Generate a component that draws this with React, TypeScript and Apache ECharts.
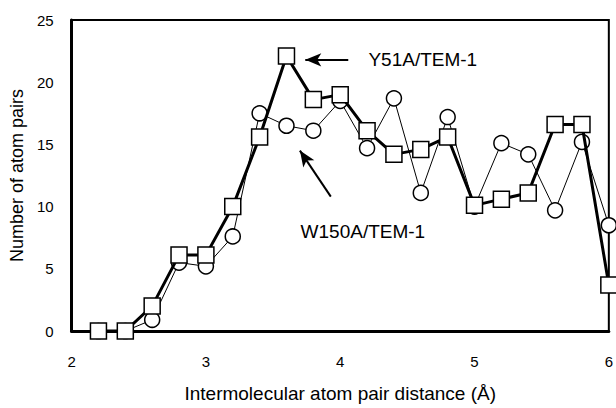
import React, { useEffect, useRef } from "react";
import * as echarts from "echarts";

const distances = [2.2, 2.4, 2.6, 2.8, 3.0, 3.2, 3.4, 3.6, 3.8, 4.0, 4.2, 4.4, 4.6, 4.8, 5.0, 5.2, 5.4, 5.6, 5.8, 6.0];
const y51a = [0, 0, 2.0, 6.1, 6.1, 10.0, 15.6, 22.1, 18.6, 19.0, 16.1, 14.2, 14.6, 15.6, 10.1, 10.6, 11.1, 16.6, 16.6, 3.7];
const w150a = [0, 0, 0.9, 5.5, 5.2, 7.6, 17.5, 16.5, 16.1, 18.5, 14.7, 18.7, 11.1, 17.2, 10.0, 15.1, 14.2, 9.7, 15.2, 8.5];

const labelY51A = "Y51A/TEM-1";
const labelW150A = "W150A/TEM-1";
const xTitle = "Intermolecular atom pair distance (Å)";
const yTitle = "Number of atom pairs";

const FONT = "Liberation Sans, Arial, sans-serif";

export default function App() {
  const ref = useRef<HTMLDivElement>(null);
  useEffect(() => {
    if (!ref.current) return;
    const chart = echarts.init(ref.current, undefined, { renderer: "svg" });
    const pairs = (ys: number[]) => distances.map((x, i) => [x, ys[i]]);
    chart.setOption({
      animation: false,
      backgroundColor: "#ffffff",
      textStyle: { fontFamily: FONT },
      grid: {
        left: 71,
        right: 3,
        top: 20,
        bottom: 74,
        show: true,
        borderColor: "#000",
        borderWidth: 2,
        backgroundColor: "transparent",
      },
      xAxis: {
        type: "value",
        min: 2,
        max: 6,
        interval: 1,
        name: xTitle,
        nameLocation: "middle",
        nameGap: 53,
        nameTextStyle: { fontSize: 19, color: "#000", fontFamily: FONT },
        axisLine: { show: true, onZero: false, lineStyle: { color: "#000", width: 3 } },
        axisTick: { show: false },
        splitLine: { show: false },
        axisLabel: { color: "#000", fontSize: 15, margin: 23, fontFamily: FONT },
      },
      yAxis: {
        type: "value",
        min: 0,
        max: 25,
        interval: 5,
        name: yTitle,
        nameLocation: "middle",
        nameGap: 37,
        nameTextStyle: { fontSize: 18, color: "#000", fontFamily: FONT },
        axisLine: { show: true, lineStyle: { color: "#000", width: 3 } },
        axisTick: { show: false },
        splitLine: { show: false },
        axisLabel: { color: "#000", fontSize: 15, margin: 18, fontFamily: FONT },
      },
      series: [
        {
          name: labelW150A,
          type: "line",
          data: pairs(w150a),
          symbol: "circle",
          symbolSize: 15,
          lineStyle: { color: "#000", width: 1 },
          itemStyle: { color: "#fff", borderColor: "#000", borderWidth: 1.5 },
          z: 2,
        },
        {
          name: labelY51A,
          type: "line",
          data: pairs(y51a),
          symbol: "rect",
          symbolSize: 16,
          lineStyle: { color: "#000", width: 3 },
          itemStyle: { color: "#fff", borderColor: "#000", borderWidth: 1.5 },
          z: 3,
          markLine: {
            silent: true,
            animation: false,
            label: { show: false },
            lineStyle: { color: "#000", width: 2, type: "solid" },
            symbol: ["none", "arrow"],
            symbolSize: [10, 16],
            data: [
              [{ coord: [4.06, 21.8] }, { coord: [3.74, 21.8] }],
              [{ coord: [3.93, 10.8] }, { coord: [3.7, 14.5] }],
            ],
          },
        },
      ],
    });
    const p1 = chart.convertToPixel({ gridIndex: 0 }, [4.21, 21.8]) as number[];
    const p2 = chart.convertToPixel({ gridIndex: 0 }, [3.705, 7.96]) as number[];
    chart.setOption({
      graphic: [
        {
          type: "text",
          x: p1[0],
          y: p1[1],
          style: { text: labelY51A, fontSize: 19, fontFamily: FONT, fill: "#000", textVerticalAlign: "middle", textAlign: "left" },
        },
        {
          type: "text",
          x: p2[0],
          y: p2[1],
          style: { text: labelW150A, fontSize: 19, fontFamily: FONT, fill: "#000", textVerticalAlign: "middle", textAlign: "left" },
        },
      ],
    });
    return () => chart.dispose();
  }, []);
  return <div ref={ref} style={{ position: "fixed", left: 0, top: 0, width: 616, height: 408 }} />;
}
